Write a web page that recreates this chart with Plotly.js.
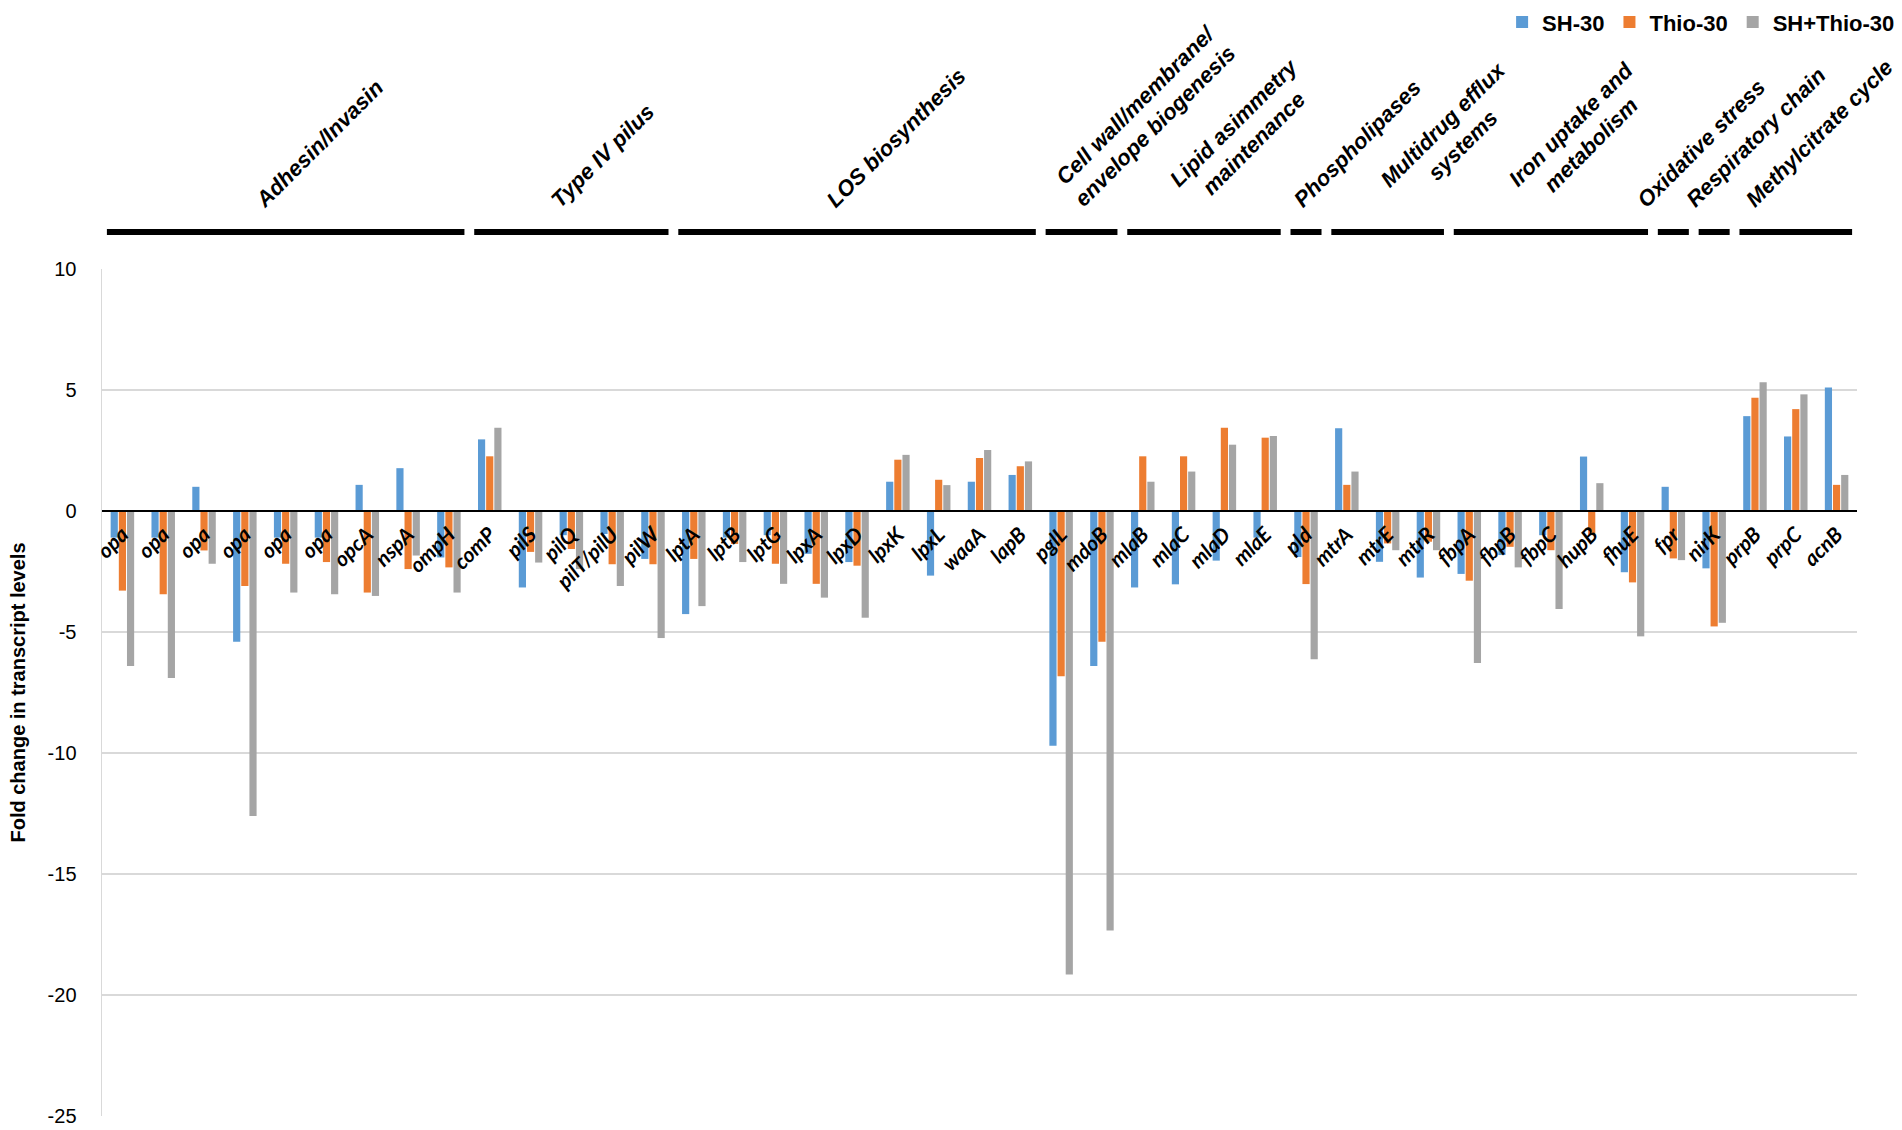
<!DOCTYPE html>
<html>
<head>
<meta charset="utf-8">
<script src="https://cdn.plot.ly/plotly-3.0.1.min.js"></script>
<style>
  html, body { margin: 0; padding: 0; background: #fff; }
  #chart { width: 1902px; height: 1130px; }
</style>
</head>
<body>
<div id="chart"></div>
<script>
// gene names, left to right (opa appears six times)
const genes = ['opa', 'opa', 'opa', 'opa', 'opa', 'opa', 'opcA', 'nspA', 'ompH',
  'comP', 'pilS', 'pilQ', 'pilT/pilU', 'pilW',
  'lptA', 'lptB', 'lptG', 'lpxA', 'lpxD', 'lpxK', 'lpxL', 'waaA', 'lapB',
  'pglL', 'mdoB',
  'mlaB', 'mlaC', 'mlaD', 'mlaE',
  'pld',
  'mtrA', 'mtrE', 'mtrR',
  'fbpA', 'fbpB', 'fbpC', 'hupB', 'fhuE',
  'fpr',
  'nirK',
  'prpB', 'prpC', 'acnB'];

const sh30 = [-1.1, -1.1, 1.0, -5.4, -1.1, -1.1, 1.08, 1.77, -1.92,
  2.96, -3.16, -1.0, -0.95, -1.98,
  -4.26, -1.1, -1.0, -1.77, -2.11, 1.21, -2.67, 1.21, 1.49,
  -9.7, -6.41,
  -3.16, -3.03, -2.05, -1.1,
  -1.9,
  3.42, -2.1, -2.75,
  -2.6, -1.82, -1.0, 2.25, -2.53,
  1.0,
  -2.37,
  3.92, 3.08, 5.1];

const thio30 = [-3.29, -3.44, -1.63, -3.1, -2.18, -2.11, -3.37, -2.4, -2.33,
  2.26, -1.69, -1.57, -2.2, -2.2,
  -1.98, -1.36, -2.18, -3.01, -2.26, 2.12, 1.29, 2.19, 1.85,
  -6.83, -5.4,
  2.26, 2.26, 3.44, 3.03,
  -3.02,
  1.08, -1.34, -1.27,
  -2.88, -1.48, -1.62, -1.0, -2.95,
  -1.96,
  -4.77,
  4.68, 4.21, 1.08];

const shThio30 = [-6.4, -6.9, -2.18, -12.6, -3.37, -3.44, -3.51, -1.84, -3.37,
  3.44, -2.13, -2.4, -3.1, -5.25,
  -3.93, -2.11, -3.01, -3.58, -4.41, 2.32, 1.07, 2.52, 2.05,
  -19.15, -17.33,
  1.21, 1.63, 2.74, 3.1,
  -6.13,
  1.63, -1.62, -1.62,
  -6.28, -2.33, -4.05, 1.15, -5.18,
  -2.03,
  -4.62,
  5.32, 4.82, 1.49];

// functional groups over the genes
const groupNames = ['Adhesin/Invasin', 'Type IV pilus', 'LOS biosynthesis',
  'Cell wall/membrane/<br>envelope biogenesis', 'Lipid asimmetry<br>maintenance',
  'Phospholipases', 'Multidrug efflux<br>systems', 'Iron uptake and<br>metabolism',
  'Oxidative stress', 'Respiratory chain', 'Methylcitrate cycle'];
const groupSizes = [9, 5, 9, 2, 4, 1, 3, 5, 1, 1, 3];

const yTickVals = [-25, -20, -15, -10, -5, 0, 5, 10];
const yTickText = ['-25', '-20', '-15', '-10', '-5', '0', '5', '10'];
const yRange = [-25, 10];

// per-group horizontal nudge of the header text (px)
const headerShift = [-38, -28, -38, -35, -42, -20, -15, -50, -44, -36, -58];

const idx = genes.map((g, i) => i);
const sans = 'Liberation Sans, Arial, sans-serif';

const data = [
  { name: 'SH-30', x: idx, y: sh30, type: 'bar', marker: { color: '#5B9BD5' } },
  { name: 'Thio-30', x: idx, y: thio30, type: 'bar', marker: { color: '#ED7D31' } },
  { name: 'SH+Thio-30', x: idx, y: shThio30, type: 'bar', marker: { color: '#A5A5A5' } },
];

const shapes = [];
const annotations = [];
let start = 0;
groupSizes.forEach((n, i) => {
  const end = start + n - 1;
  shapes.push({
    type: 'line', xref: 'x', yref: 'paper',
    x0: start - 0.5 + 0.12, x1: end + 0.5 - 0.12,
    y0: 1.0437, y1: 1.0437,
    line: { color: '#000', width: 6 },
  });
  annotations.push({
    text: groupNames[i], xref: 'x', yref: 'paper',
    x: (start + end) / 2, y: 1.064,
    xanchor: 'left', yanchor: 'bottom', xshift: headerShift[i],
    textangle: -45, showarrow: false, align: 'center',
    font: { family: sans, size: 22, weight: 'bold', style: 'italic', color: '#000' },
  });
  start = end + 1;
});

const layout = {
  width: 1902,
  height: 1130,
  margin: { l: 102, r: 45, t: 269, b: 14 },
  paper_bgcolor: '#fff',
  plot_bgcolor: '#fff',
  barmode: 'group',
  bargap: 0.4,
  bargroupgap: 0.12,
  font: { family: sans, color: '#000' },
  showlegend: true,
  legend: {
    orientation: 'h',
    xref: 'container', yref: 'container',
    x: 0.999, xanchor: 'right',
    y: 0.999, yanchor: 'top',
    font: { family: sans, size: 22, weight: 'bold', color: '#000' },
    itemwidth: 30,
    traceorder: 'normal',
  },
  xaxis: {
    range: [-0.5, genes.length - 0.5],
    tickmode: 'array',
    tickvals: idx,
    ticktext: genes,
    tickangle: -45,
    tickfont: { family: 'Lato, Open Sans, sans-serif', size: 21, weight: 'bold', style: 'italic', color: '#000' },
    anchor: 'free',
    position: -yRange[0] / (yRange[1] - yRange[0]),
    showline: true,
    linecolor: '#000',
    linewidth: 2,
    showgrid: false,
    zeroline: false,
    ticks: '',
    ticklabelstandoff: 2,
  },
  yaxis: {
    range: yRange,
    tickmode: 'array',
    tickvals: yTickVals,
    ticktext: yTickText,
    tickfont: { family: sans, size: 20, color: '#000' },
    gridcolor: '#d9d9d9',
    gridwidth: 1.5,
    showline: true,
    linecolor: '#d9d9d9',
    linewidth: 1.5,
    zeroline: false,
    ticks: '',
    ticklabelstandoff: 20,
    title: {
      text: 'Fold change in transcript levels',
      font: { family: sans, size: 20, weight: 'bold', color: '#000' },
      standoff: 16,
    },
  },
  shapes: shapes,
  annotations: annotations,
};

Plotly.newPlot('chart', data, layout, { displayModeBar: false, staticPlot: true });
</script>
</body>
</html>
